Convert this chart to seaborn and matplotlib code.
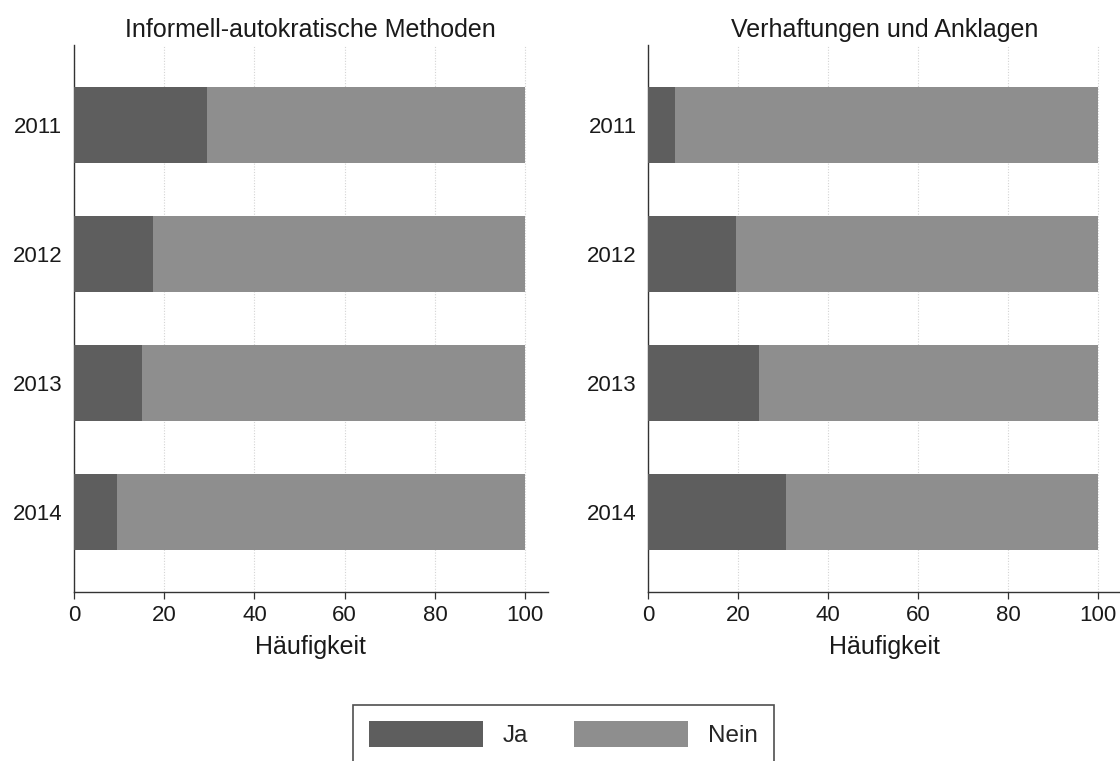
import numpy as np
import pandas as pd
import matplotlib
matplotlib.use("Agg")
import matplotlib.pyplot as plt
from matplotlib.patches import Patch
import seaborn as sns

# Daten (Prozent)
years = ["2011", "2012", "2013", "2014"]
informell_ja = [29.5, 17.5, 15.0, 9.5]
verhaftung_ja = [6.0, 19.5, 24.5, 30.5]
panel_titles = ["Informell-autokratische Methoden", "Verhaftungen und Anklagen"]
legend_labels = ["Ja", "Nein"]

COL_JA = "#5e5e5e"
COL_NEIN = "#8e8e8e"

sns.set_theme(style="white")
plt.rcParams["font.family"] = ["Liberation Sans", "DejaVu Sans"]

fig = plt.figure(figsize=(11.2, 7.61), dpi=100)
ax_left = fig.add_axes([0.066, 0.222, 0.423, 0.719])
ax_right = fig.add_axes([0.579, 0.222, 0.4214, 0.719])


def draw_panel(ax, ja, title):
    df = pd.DataFrame({"Jahr": years, "Ja": ja})
    df["Nein"] = 100 - df["Ja"]
    df["Gesamt"] = df["Ja"] + df["Nein"]
    # Nein als Gesamtbalken, Ja darüber
    sns.barplot(data=df, x="Gesamt", y="Jahr", orient="h", color=COL_NEIN,
                width=0.59, saturation=1, linewidth=0, ax=ax, zorder=2)
    sns.barplot(data=df, x="Ja", y="Jahr", orient="h", color=COL_JA,
                width=0.59, saturation=1, linewidth=0, ax=ax, zorder=3)
    ax.set_xlim(0, 105)
    ax.set_ylim(3.62, -0.62)
    ax.set_xticks([0, 20, 40, 60, 80, 100])
    ax.xaxis.grid(True, color="#d4d4d4", linestyle=(0, (1, 1.5)), linewidth=0.8, zorder=0)
    ax.set_axisbelow(True)
    ax.set_xlabel("Häufigkeit", fontsize=18, labelpad=7, color="#1a1a1a")
    ax.set_ylabel("")
    ax.set_title(title, fontsize=18, pad=6, color="#1a1a1a")
    for side in ["top", "right"]:
        ax.spines[side].set_visible(False)
    for side in ["left", "bottom"]:
        ax.spines[side].set_color("#333333")
        ax.spines[side].set_linewidth(1.0)
    ax.tick_params(axis="x", which="both", bottom=True, length=5, width=0.9,
                   color="#333333", labelsize=16, pad=4, labelcolor="#1a1a1a")
    ax.tick_params(axis="y", left=False, length=0, labelsize=16, pad=8.5,
                   labelcolor="#1a1a1a")


draw_panel(ax_left, informell_ja, panel_titles[0])
draw_panel(ax_right, verhaftung_ja, panel_titles[1])

handles = [Patch(facecolor=COL_JA, edgecolor="none"),
           Patch(facecolor=COL_NEIN, edgecolor="none")]
leg = fig.legend(handles, legend_labels, loc="upper center", bbox_to_anchor=(0.503, 0.0736),
                 ncol=2, frameon=True, fancybox=False, fontsize=17.5,
                 handlelength=4.7, handleheight=1.28, columnspacing=1.9,
                 handletextpad=0.8, borderpad=0.65, borderaxespad=0)
leg.get_frame().set_edgecolor("#222222")
leg.get_frame().set_linewidth(1.2)

fig.savefig("out.png", dpi=100, facecolor="white")
